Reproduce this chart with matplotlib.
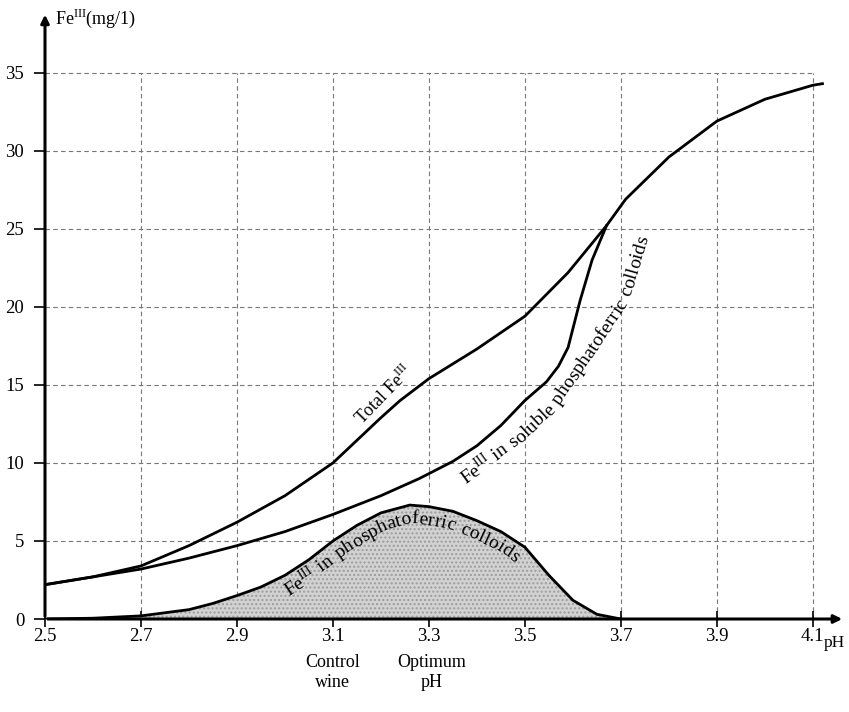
import numpy as np
import matplotlib.pyplot as plt

plt.rcParams['font.family'] = ['Liberation Serif', 'DejaVu Serif']
plt.rcParams['mathtext.fontset'] = 'custom'
plt.rcParams['mathtext.rm'] = 'Liberation Serif'

# values (pH vs Fe III mg/l)
ph_total = [2.5, 2.6, 2.7, 2.8, 2.9, 3.0, 3.1, 3.2, 3.24, 3.3, 3.4, 3.5, 3.59, 3.67, 3.71, 3.8, 3.9, 4.0, 4.1, 4.12]
fe_total = [2.2, 2.7, 3.4, 4.7, 6.2, 7.9, 10.0, 12.9, 14.0, 15.4, 17.3, 19.4, 22.2, 25.2, 26.9, 29.6, 31.9, 33.3, 34.2, 34.3]

ph_soluble = [2.5, 2.6, 2.7, 2.8, 2.9, 3.0, 3.1, 3.2, 3.28, 3.35, 3.4, 3.45, 3.5, 3.545, 3.57, 3.59, 3.6, 3.615, 3.64, 3.67]
fe_soluble = [2.2, 2.7, 3.2, 3.9, 4.7, 5.6, 6.7, 7.9, 9.0, 10.1, 11.1, 12.4, 14.0, 15.2, 16.2, 17.4, 18.6, 20.4, 23.0, 25.2]

ph_colloid = [2.5, 2.6, 2.7, 2.8, 2.85, 2.9, 2.95, 3.0, 3.05, 3.1, 3.15, 3.2, 3.26, 3.3, 3.35, 3.4, 3.45, 3.5, 3.55, 3.6, 3.65, 3.7]
fe_colloid = [0.0, 0.05, 0.2, 0.6, 1.0, 1.5, 2.05, 2.8, 3.8, 5.0, 6.0, 6.8, 7.3, 7.2, 6.9, 6.3, 5.6, 4.6, 2.8, 1.2, 0.3, 0.0]

x_ticks = [2.5, 2.7, 2.9, 3.1, 3.3, 3.5, 3.7, 3.9, 4.1]
y_ticks = [0, 5, 10, 15, 20, 25, 30, 35]

# baseline guide (pH, Fe) for the bent "soluble" label
guide_x = [3.354, 3.483, 3.546, 3.625, 3.698, 3.740]
guide_y = [9.04, 11.92, 13.72, 17.24, 20.64, 25.13]

fig = plt.figure(figsize=(8.49, 7.12), dpi=100)
ax = fig.add_axes([45 / 849, 93 / 712, 800 / 849, 604 / 712])
ax.set_xlim(2.5, 4.167)
ax.set_ylim(0, 38.7)

# dashed grid, only inside the labelled area
for x in x_ticks[1:]:
    ax.plot([x, x], [0, 35], color='#777777', lw=0.8, ls=(0, (4, 3)), zorder=1)
for y in y_ticks[1:]:
    ax.plot([2.5, 4.1], [y, y], color='#777777', lw=0.8, ls=(0, (4, 3)), zorder=1)

ax.fill_between(ph_colloid, fe_colloid, 0, facecolor='#d2d2d2', edgecolor='#9c9c9c',
                hatch='....', lw=0, zorder=2)
ax.plot(ph_colloid, fe_colloid, color='black', lw=2, zorder=3)
ax.plot(ph_total, fe_total, color='black', lw=2, zorder=3)
ax.plot(ph_soluble, fe_soluble, color='black', lw=2, zorder=3)

for s in ['top', 'right', 'left', 'bottom']:
    ax.spines[s].set_visible(False)
ax.annotate('', xy=(4.167, 0), xytext=(2.5, 0), annotation_clip=False,
            arrowprops=dict(arrowstyle='-|>', color='black', lw=2.2, mutation_scale=12), zorder=4)
ax.annotate('', xy=(2.5, 38.9), xytext=(2.5, 0), annotation_clip=False,
            arrowprops=dict(arrowstyle='-|>', color='black', lw=2.2, mutation_scale=12), zorder=4)

ax.set_xticks(x_ticks)
ax.set_xticklabels([f'{v:.1f}' for v in x_ticks], fontsize=13.5)
ax.set_yticks(y_ticks)
ax.set_yticklabels([str(v) for v in y_ticks], fontsize=13.5)
ax.tick_params(axis='x', direction='inout', length=11, width=1.2, pad=1)
ax.tick_params(axis='y', direction='out', length=8, width=1.2, pad=7)

ax.text(2.52, 38.5, 'Fe$^{\\mathrm{III}}$(mg/1)', fontsize=13, va='center', ha='left')
ax.text(4.145, -1.55, 'pH', fontsize=12.5, ha='center', va='center')
ax.text(3.1, -3.45, 'Control\nwine', fontsize=13, ha='center', va='center', linespacing=1.25)
ax.text(3.305, -3.45, 'Optimum\npH', fontsize=13, ha='center', va='center', linespacing=1.25)

ax.text(3.206, 14.4, 'Total Fe$^{\\mathrm{III}}$', fontsize=13, rotation=46, ha='center', va='center')

fig.canvas.draw()
renderer = fig.canvas.get_renderer()
inv = ax.transData.inverted()


def bend_text(text_tokens, px, py, x_from, size, off, spacing=1.0):
    # resample the curve in pixels, shift it sideways, then walk along the shifted path
    pts = ax.transData.transform(np.column_stack([px, py]))
    arc = np.concatenate([[0], np.cumsum(np.hypot(np.diff(pts[:, 0]), np.diff(pts[:, 1])))])
    s_dense = np.arange(0, arc[-1], 1.0)
    xs = np.interp(s_dense, arc, pts[:, 0])
    ys = np.interp(s_dense, arc, pts[:, 1])
    k = np.ones(15) / 15
    xs_s = np.convolve(np.pad(xs, 7, mode='edge'), k, mode='valid')
    ys_s = np.convolve(np.pad(ys, 7, mode='edge'), k, mode='valid')
    tx_, ty_ = np.gradient(xs_s), np.gradient(ys_s)
    nrm = np.hypot(tx_, ty_)
    ox, oy = xs_s + ty_ / nrm * off, ys_s - tx_ / nrm * off
    start = int(np.argmin(np.abs(xs - ax.transData.transform((x_from, 0))[0])))
    ox, oy, tx_, ty_ = ox[start:], oy[start:], tx_[start:], ty_[start:]
    oarc = np.concatenate([[0], np.cumsum(np.hypot(np.diff(ox), np.diff(oy)))])

    s = 0.0
    for tok in text_tokens:
        probe = ax.text(0, 0, tok if tok != ' ' else 'i', fontsize=size)
        w = probe.get_window_extent(renderer).width * spacing
        probe.remove()
        c = s + w / 2
        i = min(int(np.searchsorted(oarc, c)), len(oarc) - 1)
        if tok != ' ':
            dx, dy = inv.transform((np.interp(c, oarc, ox), np.interp(c, oarc, oy)))
            ax.text(dx, dy, tok, fontsize=size, rotation=np.degrees(np.arctan2(ty_[i], tx_[i])),
                    rotation_mode='anchor', ha='center', va='center', zorder=5)
        s += w


fe3 = 'Fe$^{\\mathrm{III}}$'
bend_text([fe3, ' ', 'i', 'n', ' '] + list('phosphatoferric') + [' '] + list('colloids'),
          ph_colloid, fe_colloid, 2.985, 14, 13.5, spacing=1.05)
bend_text([fe3, ' ', 'i', 'n', ' '] + list('soluble') + [' '] + list('phosphatoferric') + [' '] + list('colloids'),
          guide_x, guide_y, 3.36, 14, 6, spacing=1.0)

fig.savefig('out.png', dpi=100)
